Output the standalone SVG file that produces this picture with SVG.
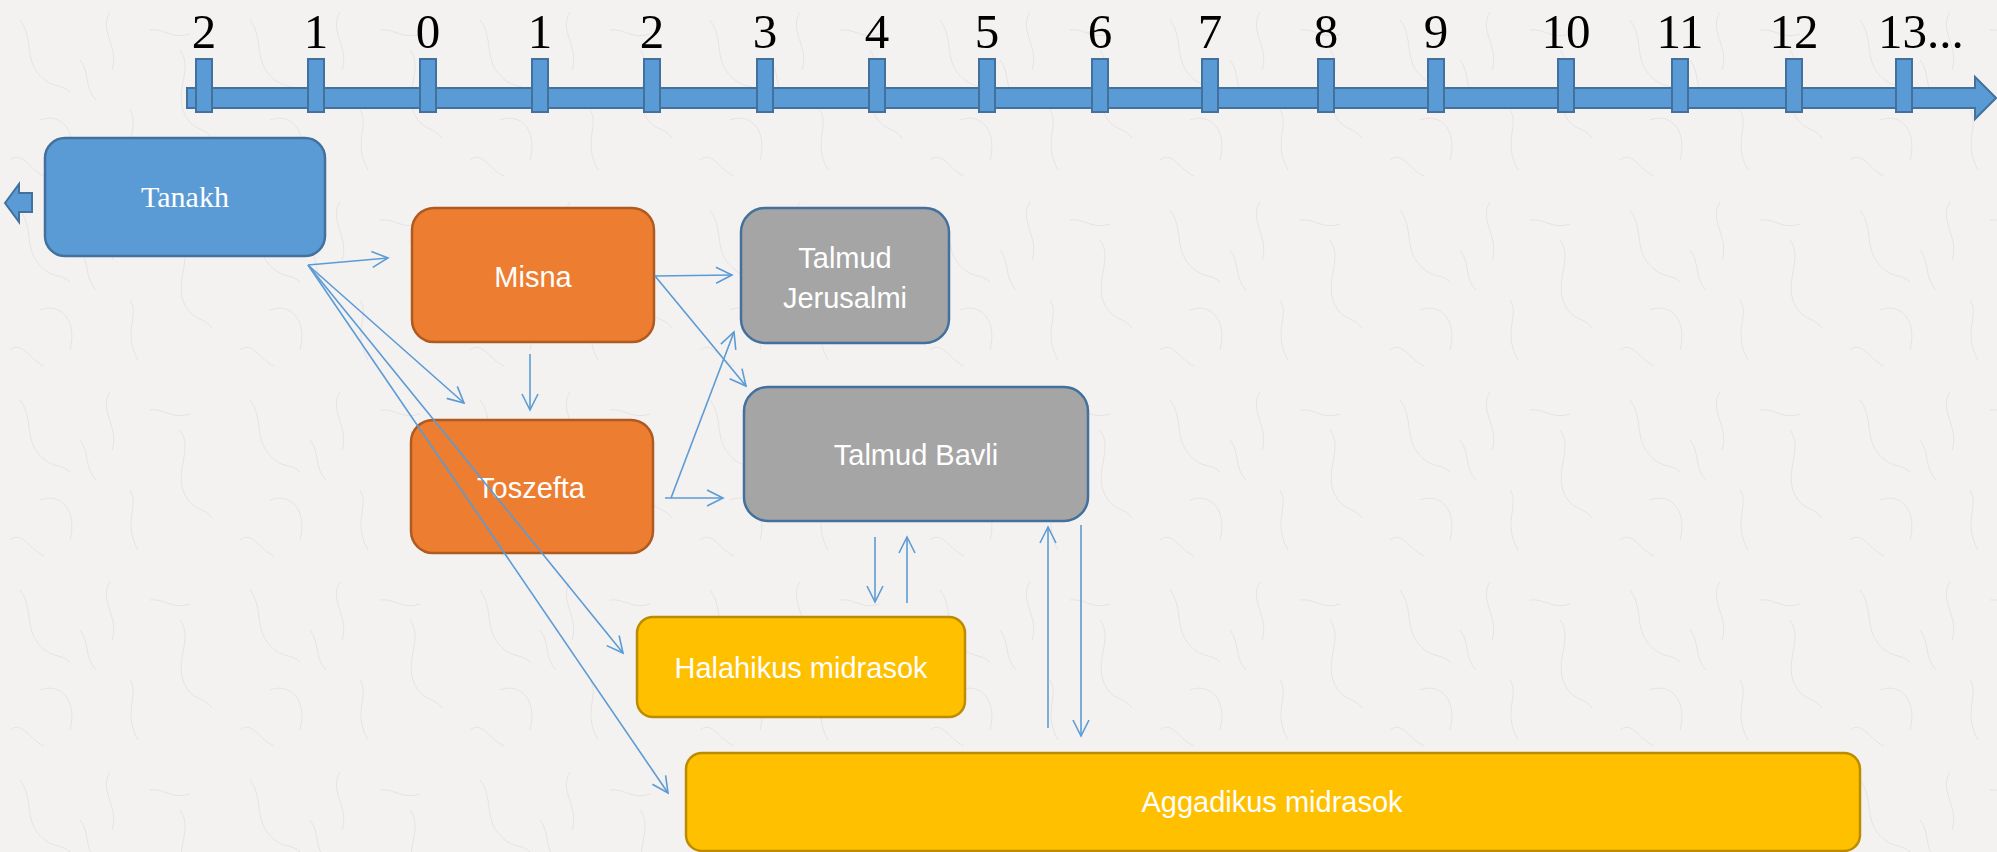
<svg xmlns="http://www.w3.org/2000/svg" width="1997" height="852" viewBox="0 0 1997 852">
<defs>
<marker id="ah" markerUnits="userSpaceOnUse" markerWidth="20" markerHeight="20" viewBox="-18 -10 20 20" refX="0" refY="0" orient="auto">
<path d="M-16,-8 L0,0 L-16,8" fill="none" stroke="#5B9BD5" stroke-width="1.6"/>
</marker>
<pattern id="paper" patternUnits="userSpaceOnUse" width="230" height="190">
<rect width="230" height="190" fill="#F4F2F1"/>
<g fill="none" stroke="#CFCBC8" stroke-width="0.9" opacity="0.45">
<path d="M20,20 C35,40 22,62 45,80 C55,88 62,84 70,92"/>
<path d="M110,12 C98,30 120,48 112,70"/>
<path d="M180,50 C195,70 170,95 188,120 C195,130 205,128 212,138"/>
<path d="M40,120 C60,112 78,130 70,160"/>
<path d="M130,110 C140,125 122,142 138,170"/>
<path d="M150,30 C165,28 172,40 190,34"/>
<path d="M80,60 C90,72 84,88 96,100"/>
<path d="M10,160 C22,150 30,170 44,176"/>
</g>
</pattern>
</defs>
<style>
.tick{fill:#5B9BD5;stroke:#41719C;stroke-width:2}
.yr{font-family:"Liberation Serif",serif;font-size:49px;fill:#000;text-anchor:middle}
.box{stroke-width:2.5}
.blue{fill:#5B9BD5;stroke:#41719C}
.orange{fill:#ED7D31;stroke:#AE5A21}
.grey{fill:#A5A5A5;stroke:#41719C}
.gold{fill:#FFC000;stroke:#BC8C00}
.lbl{font-family:"Liberation Sans",Arial,sans-serif;font-size:29px;fill:#fff;text-anchor:middle}
.con{fill:none;stroke:#5B9BD5;stroke-width:1.6;marker-end:url(#ah)}
</style>
<rect width="1997" height="852" fill="url(#paper)"/>
<g id="timeline">
<path d="M187,88 H1975 V77 L1996,98 L1975,119 V108 H187 Z" class="tick"/>
<rect class="tick" x="196" y="59" width="16" height="53"/>
<rect class="tick" x="308" y="59" width="16" height="53"/>
<rect class="tick" x="420" y="59" width="16" height="53"/>
<rect class="tick" x="532" y="59" width="16" height="53"/>
<rect class="tick" x="644" y="59" width="16" height="53"/>
<rect class="tick" x="757" y="59" width="16" height="53"/>
<rect class="tick" x="869" y="59" width="16" height="53"/>
<rect class="tick" x="979" y="59" width="16" height="53"/>
<rect class="tick" x="1092" y="59" width="16" height="53"/>
<rect class="tick" x="1202" y="59" width="16" height="53"/>
<rect class="tick" x="1318" y="59" width="16" height="53"/>
<rect class="tick" x="1428" y="59" width="16" height="53"/>
<rect class="tick" x="1558" y="59" width="16" height="53"/>
<rect class="tick" x="1672" y="59" width="16" height="53"/>
<rect class="tick" x="1786" y="59" width="16" height="53"/>
<rect class="tick" x="1896" y="59" width="16" height="53"/>
<text class="yr" x="204" y="48">2</text>
<text class="yr" x="316" y="48">1</text>
<text class="yr" x="428" y="48">0</text>
<text class="yr" x="540" y="48">1</text>
<text class="yr" x="652" y="48">2</text>
<text class="yr" x="765" y="48">3</text>
<text class="yr" x="877" y="48">4</text>
<text class="yr" x="987" y="48">5</text>
<text class="yr" x="1100" y="48">6</text>
<text class="yr" x="1210" y="48">7</text>
<text class="yr" x="1326" y="48">8</text>
<text class="yr" x="1436" y="48">9</text>
<text class="yr" x="1566" y="48">10</text>
<text class="yr" x="1680" y="48">11</text>
<text class="yr" x="1794" y="48">12</text>
<text class="yr" x="1878" y="48" style="text-anchor:start">13...</text>
</g>
<g id="tanakh">
<path d="M5,203 L19,184 V193 H32 V212 H19 V222 Z" class="tick"/>
<rect class="box blue" x="45" y="138" width="280" height="118" rx="20"/>
<text x="185" y="207" font-family="'Liberation Serif',serif" font-size="30" fill="#fff" text-anchor="middle">Tanakh</text>
</g>
<g id="misna">
<rect class="box orange" x="412" y="208" width="242" height="134" rx="22"/>
<text class="lbl" x="533" y="287">Misna</text>
</g>
<g id="toszefta">
<rect class="box orange" x="411" y="420" width="242" height="133" rx="22"/>
<text class="lbl" x="531" y="498">Toszefta</text>
</g>
<g id="talmud-jerusalmi">
<rect class="box grey" x="741" y="208" width="208" height="135" rx="24"/>
<text class="lbl" x="845" y="268">Talmud</text>
<text class="lbl" x="845" y="308">Jerusalmi</text>
</g>
<g id="talmud-bavli">
<rect class="box grey" x="744" y="387" width="344" height="134" rx="24"/>
<text class="lbl" x="916" y="465">Talmud Bavli</text>
</g>
<g id="halahikus">
<rect class="box gold" x="637" y="617" width="328" height="100" rx="16"/>
<text class="lbl" x="801" y="678">Halahikus midrasok</text>
</g>
<g id="aggadikus">
<rect class="box gold" x="686" y="753" width="1174" height="98" rx="16"/>
<text class="lbl" x="1272" y="812">Aggadikus midrasok</text>
</g>
<g id="connectors">
<line class="con" x1="308" y1="265" x2="388" y2="258"/>
<line class="con" x1="308" y1="265" x2="464" y2="403"/>
<line class="con" x1="308" y1="265" x2="623" y2="653"/>
<line class="con" x1="308" y1="265" x2="668" y2="793"/>
<line class="con" x1="530" y1="354" x2="530" y2="410"/>
<line class="con" x1="655" y1="276" x2="732" y2="275"/>
<line class="con" x1="655" y1="276" x2="746" y2="386"/>
<line class="con" x1="671" y1="498" x2="734" y2="332"/>
<line class="con" x1="665" y1="498" x2="723" y2="498"/>
<line class="con" x1="875" y1="537" x2="875" y2="602"/>
<line class="con" x1="907" y1="603" x2="907" y2="537"/>
<line class="con" x1="1048" y1="728" x2="1048" y2="527"/>
<line class="con" x1="1081" y1="525" x2="1081" y2="736"/>
</g>
</svg>
